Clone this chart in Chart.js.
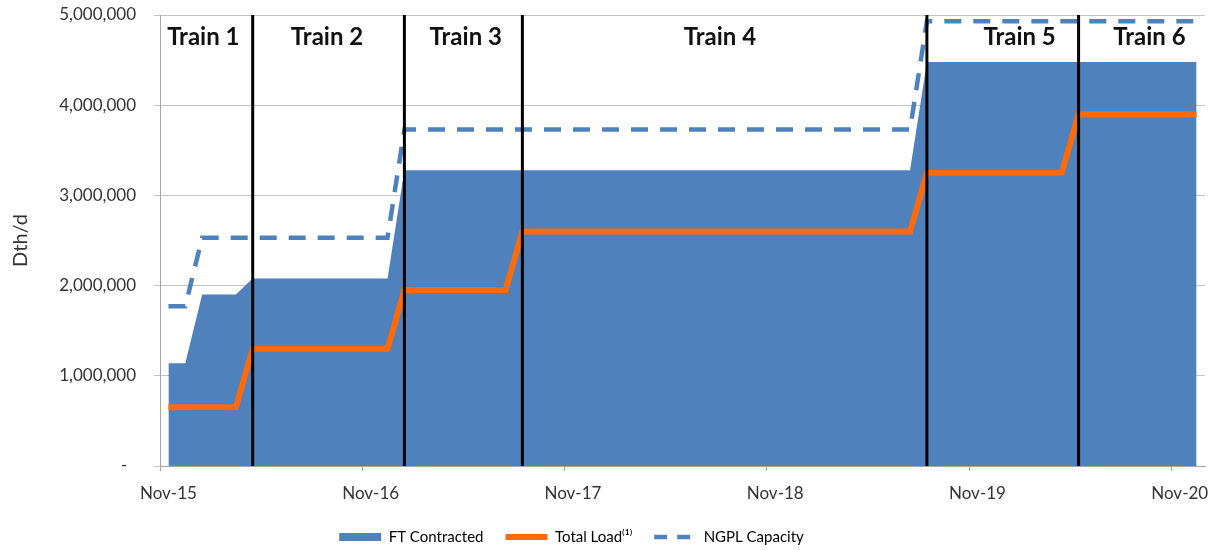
<!DOCTYPE html>
<html>
<head>
<meta charset="utf-8">
<script src="https://cdn.jsdelivr.net/npm/chart.js@4.4.1/dist/chart.umd.min.js"></script>
<style>
  html, body { margin: 0; padding: 0; background: #ffffff; }
  #wrap { width: 1215px; height: 550px; position: relative; }
</style>
</head>
<body>
<div id="wrap"><canvas id="c"></canvas></div>
<script>
// ---- categories (monthly) ----
const months = [
  'Nov-15','Dec-15',
  'Jan-16','Feb-16','Mar-16','Apr-16','May-16','Jun-16','Jul-16','Aug-16','Sep-16','Oct-16','Nov-16','Dec-16',
  'Jan-17','Feb-17','Mar-17','Apr-17','May-17','Jun-17','Jul-17','Aug-17','Sep-17','Oct-17','Nov-17','Dec-17',
  'Jan-18','Feb-18','Mar-18','Apr-18','May-18','Jun-18','Jul-18','Aug-18','Sep-18','Oct-18','Nov-18','Dec-18',
  'Jan-19','Feb-19','Mar-19','Apr-19','May-19','Jun-19','Jul-19','Aug-19','Sep-19','Oct-19','Nov-19','Dec-19',
  'Jan-20','Feb-20','Mar-20','Apr-20','May-20','Jun-20','Jul-20','Aug-20','Sep-20','Oct-20','Nov-20','Dec-20'
];

// ---- series values (Dth/d) ----
const ftContracted = [
  1140000, 1140000, 1900000, 1900000, 1900000,
  2080000, 2080000, 2080000, 2080000, 2080000, 2080000, 2080000, 2080000, 2080000,
  3280000, 3280000, 3280000, 3280000, 3280000, 3280000, 3280000, 3280000, 3280000, 3280000,
  3280000, 3280000, 3280000, 3280000, 3280000, 3280000, 3280000, 3280000, 3280000, 3280000,
  3280000, 3280000, 3280000, 3280000, 3280000, 3280000, 3280000, 3280000, 3280000, 3280000,
  3280000,
  4480000, 4480000, 4480000, 4480000, 4480000, 4480000, 4480000, 4480000, 4480000, 4480000,
  4480000, 4480000, 4480000, 4480000, 4480000, 4480000, 4480000
];
const totalLoad = [
  650000, 650000, 650000, 650000, 650000,
  1300000, 1300000, 1300000, 1300000, 1300000, 1300000, 1300000, 1300000, 1300000,
  1950000, 1950000, 1950000, 1950000, 1950000, 1950000, 1950000,
  2600000, 2600000, 2600000, 2600000, 2600000, 2600000, 2600000, 2600000, 2600000, 2600000,
  2600000, 2600000, 2600000, 2600000, 2600000, 2600000, 2600000, 2600000, 2600000, 2600000,
  2600000, 2600000, 2600000, 2600000,
  3250000, 3250000, 3250000, 3250000, 3250000, 3250000, 3250000, 3250000, 3250000,
  3900000, 3900000, 3900000, 3900000, 3900000, 3900000, 3900000, 3900000
];
const ngplCapacity = [
  1770000, 1770000,
  2530000, 2530000, 2530000, 2530000, 2530000, 2530000, 2530000, 2530000, 2530000, 2530000, 2530000, 2530000,
  3730000, 3730000, 3730000, 3730000, 3730000, 3730000, 3730000, 3730000, 3730000, 3730000,
  3730000, 3730000, 3730000, 3730000, 3730000, 3730000, 3730000, 3730000, 3730000, 3730000,
  3730000, 3730000, 3730000, 3730000, 3730000, 3730000, 3730000, 3730000, 3730000, 3730000,
  3730000,
  4930000, 4930000, 4930000, 4930000, 4930000, 4930000, 4930000, 4930000, 4930000, 4930000,
  4930000, 4930000, 4930000, 4930000, 4930000, 4930000, 4930000
];

// ---- train phases ----
const trainBoundaries = ['Apr-16', 'Jan-17', 'Aug-17', 'Aug-19', 'May-20'];
const trainNames = ['Train 1', 'Train 2', 'Train 3', 'Train 4', 'Train 5', 'Train 6'];
const trainLabelPos = [2.07, 9.41, 17.64, 32.72, 50.5, 58.2]; // category index of label centre
const trainLabelValue = 4750000;

// ---- axis tick labels ----
const yTickValues = [0, 1000000, 2000000, 3000000, 4000000, 5000000];
const yTickLabels = ['-  ', '1,000,000', '2,000,000', '3,000,000', '4,000,000', '5,000,000'];
const xLabelEvery = 12;

const seriesNames = ['FT Contracted', 'Total Load\u207D\u00B9\u207E', 'NGPL Capacity'];

const BLUE = '#4F81BD';
const ORANGE = '#FF6A0A';
const GRID = '#C4C4C4';
const TEXT = '#333333';

Chart.defaults.font.family = 'Lato, "Open Sans", sans-serif';
Chart.defaults.color = TEXT;

const dividerSets = trainBoundaries.map(m => ({
  type: 'line',
  data: [{ x: m, y: 0 }, { x: m, y: 5000000 }],
  borderColor: '#000000',
  borderWidth: 3,
  pointRadius: 0,
  fill: false,
  order: 0,
  isDivider: true
}));

const trainLabelsPlugin = {
  id: 'trainLabels',
  afterDatasetsDraw(chart) {
    const { ctx, scales } = chart;
    ctx.save();
    ctx.font = 'bold 24px Lato, "Open Sans", sans-serif';
    ctx.fillStyle = '#111111';
    ctx.textAlign = 'center';
    ctx.textBaseline = 'middle';
    trainNames.forEach((name, i) => {
      const x = scales.x.getPixelForValue(trainLabelPos[i]);
      const y = scales.y.getPixelForValue(trainLabelValue);
      ctx.fillText(name, x, y);
    });
    ctx.restore();
  }
};

const legendShift = {
  id: 'legendShift',
  afterLayout(chart) {
    const lg = chart.legend;
    if (!lg) return;
    lg.left -= 31; lg.right -= 31;
    lg.top += 4.5; lg.bottom += 4.5;
  }
};

new Chart(document.getElementById('c'), {
  type: 'line',
  data: {
    labels: months,
    datasets: [
      ...dividerSets,
      {
        label: seriesNames[1],
        data: totalLoad,
        borderColor: ORANGE,
        borderWidth: 6,
        pointRadius: 0,
        tension: 0,
        fill: false,
        order: 1
      },
      {
        label: seriesNames[2],
        data: ngplCapacity,
        borderColor: BLUE,
        borderWidth: 4.5,
        borderDash: [17, 12],
        borderCapStyle: 'butt',
        pointRadius: 0,
        tension: 0,
        fill: false,
        order: 2
      },
      {
        label: seriesNames[0],
        data: ftContracted,
        borderColor: BLUE,
        backgroundColor: BLUE,
        borderWidth: 0,
        pointRadius: 0,
        tension: 0,
        fill: 'origin',
        order: 3
      }
    ]
  },
  options: {
    responsive: true,
    maintainAspectRatio: false,
    animation: false,
    layout: { padding: { left: 0, right: 10, top: 15, bottom: 0 } },
    plugins: {
      tooltip: { enabled: false },
      legend: {
        position: 'bottom',
        align: 'center',
        labels: {
          usePointStyle: true,
          pointStyleWidth: 42,
          boxHeight: 8,
          padding: 22,
          font: { size: 15 },
          color: TEXT,
          generateLabels() {
            return [
              { text: seriesNames[0], fillStyle: BLUE, strokeStyle: BLUE, lineWidth: 0, pointStyle: 'rect', datasetIndex: 7, hidden: false },
              { text: seriesNames[1], fillStyle: ORANGE, strokeStyle: ORANGE, lineWidth: 6, pointStyle: 'line', lineCap: 'butt', datasetIndex: 5, hidden: false },
              { text: seriesNames[2], fillStyle: BLUE, strokeStyle: BLUE, lineWidth: 4.5, lineDash: [13, 10], lineCap: 'butt', pointStyle: 'line', datasetIndex: 6, hidden: false }
            ];
          }
        }
      }
    },
    scales: {
      x: {
        type: 'category',
        offset: true,
        afterFit(scale) { scale.height = 37; },
        border: { display: true, color: '#A6A6A6', width: 1 },
        grid: {
          offset: true,
          drawOnChartArea: false,
          drawTicks: true,
          tickLength: 5,
          color: ctx => (ctx.index !== undefined && ctx.index % xLabelEvery === 0) ? '#A6A6A6' : 'rgba(0,0,0,0)'
        },
        ticks: {
          autoSkip: false,
          maxRotation: 0,
          minRotation: 0,
          padding: 12,
          font: { size: 17 },
          color: TEXT,
          callback: (v, i) => (i % xLabelEvery === 0 ? months[i] : '')
        }
      },
      y: {
        min: 0,
        max: 5000000,
        afterFit(scale) { scale.width = 160; scale.paddingTop = 0; scale.paddingBottom = 0; },
        afterBuildTicks(scale) { scale.ticks = yTickValues.map(v => ({ value: v })); },
        border: { display: true, color: '#A6A6A6', width: 1 },
        grid: {
          color: GRID,
          lineWidth: 1,
          drawTicks: true,
          tickLength: 6
        },
        ticks: {
          padding: 18,
          font: { size: 17 },
          color: TEXT,
          callback: (v) => yTickLabels[yTickValues.indexOf(v)]
        },
        title: {
          display: true,
          text: 'Dth/d',
          font: { size: 20 },
          color: TEXT,
          padding: { top: 9, bottom: 0 }
        }
      }
    }
  },
  plugins: [trainLabelsPlugin, legendShift]
});
</script>
</body>
</html>
